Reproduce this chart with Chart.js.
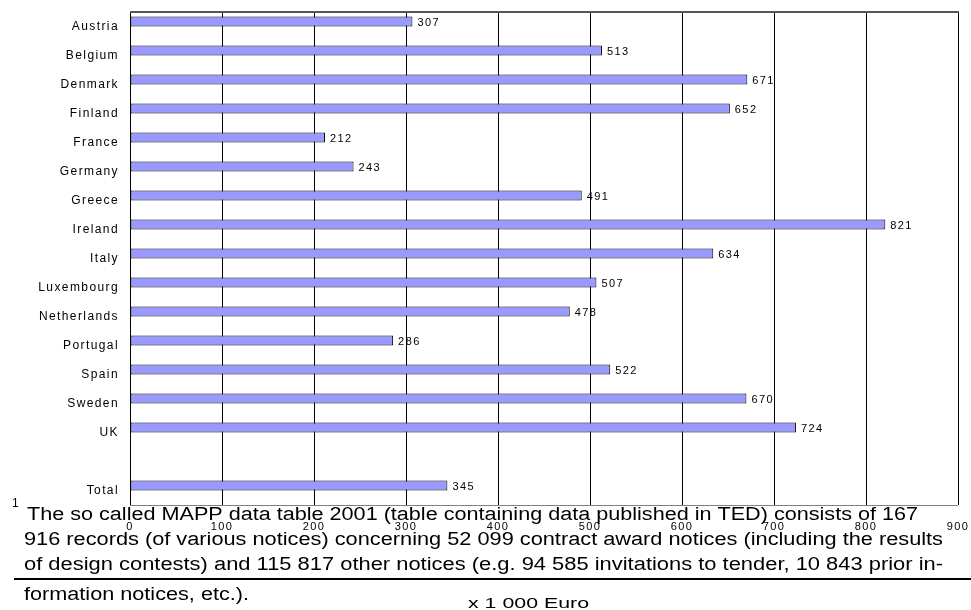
<!DOCTYPE html>
<html>
<head>
<meta charset="utf-8">
<script src="https://cdn.jsdelivr.net/npm/chart.js@4"></script>
<style>
  body { margin: 0; background: #fff; }
  canvas { display: block; }
</style>
</head>
<body>
<canvas id="awardChart" width="971" height="610"></canvas>
<script>
// average value per contract award notice (x 1 000 Euro)
const countries = ['Austria', 'Belgium', 'Denmark', 'Finland', 'France', 'Germany', 'Greece', 'Ireland',
  'Italy', 'Luxembourg', 'Netherlands', 'Portugal', 'Spain', 'Sweden', 'UK', '', 'Total'];
const values = [307, 513, 671, 652, 212, 243, 491, 821, 634, 507, 478, 286, 522, 670, 724, null, 345];
const xTicks = [0, 100, 200, 300, 400, 500, 600, 700, 800, 900];

const footnote = [
  'The so called MAPP data table 2001 (table containing data published in TED) consists of 167',
  '916 records (of various notices) concerning 52 099 contract award notices (including the results',
  'of design contests) and 115 817 other notices (e.g. 94 585 invitations to tender, 10 843 prior in-',
  'formation notices, etc.).'
];
const unitLabel = 'x 1 000 Euro';

const FONT = "'Liberation Sans', Arial, sans-serif";

// the scanned page is stretched sideways: draw text squeezed/stretched to span x0..x1
function fitText(ctx, text, x0, x1, y) {
  ctx.save();
  ctx.letterSpacing = '0px';
  const w = ctx.measureText(text).width;
  ctx.translate(x0, y);
  ctx.scale((x1 - x0) / w, 1);
  ctx.fillText(text, 0, 0);
  ctx.restore();
}

const extras = {
  id: 'extras',
  beforeDraw(chart) {
    chart.ctx.letterSpacing = '1.4px';
  },
  beforeDatasetsDraw(chart) {
    const { ctx, chartArea: a } = chart;
    ctx.save();
    ctx.strokeStyle = '#808080';
    ctx.lineWidth = 1;
    ctx.beginPath();
    ctx.moveTo(a.left, a.bottom + 0.5);
    ctx.lineTo(a.right, a.bottom + 0.5);
    ctx.stroke();
    ctx.strokeStyle = '#555';
    ctx.lineWidth = 2;
    ctx.beginPath();
    ctx.moveTo(a.left, a.top);
    ctx.lineTo(a.right + 1, a.top);
    ctx.stroke();
    ctx.restore();
  },
  afterDatasetsDraw(chart) {
    const ctx = chart.ctx;
    const meta = chart.getDatasetMeta(0);
    ctx.save();
    ctx.font = '11px ' + FONT;
    ctx.fillStyle = '#000';
    ctx.textAlign = 'left';
    ctx.textBaseline = 'middle';
    meta.data.forEach((bar, i) => {
      if (values[i] == null) return;
      ctx.fillText(String(values[i]), bar.x + 5, bar.y + 1);
    });
    ctx.restore();
  },
  afterDraw(chart) {
    const ctx = chart.ctx;
    ctx.save();
    ctx.fillStyle = '#000';
    ctx.textAlign = 'left';
    ctx.textBaseline = 'alphabetic';

    ctx.font = '12px ' + FONT;
    ctx.letterSpacing = '0px';
    ctx.fillText('1', 12, 507);

    ctx.font = '18px ' + FONT;
    fitText(ctx, footnote[0], 27, 918, 520);
    fitText(ctx, footnote[1], 24, 943, 545);
    fitText(ctx, footnote[2], 24, 943, 570);
    fitText(ctx, footnote[3], 24, 249, 600);

    ctx.strokeStyle = '#000';
    ctx.lineWidth = 2;
    ctx.beginPath();
    ctx.moveTo(14, 579);
    ctx.lineTo(971, 579);
    ctx.stroke();

    ctx.font = '15px ' + FONT;
    fitText(ctx, unitLabel, 468, 589, 608);
    ctx.restore();
  }
};

new Chart(document.getElementById('awardChart'), {
  type: 'bar',
  data: {
    labels: countries,
    datasets: [{
      label: 'x 1 000 Euro',
      data: values,
      backgroundColor: '#9999ff',
      borderColor: '#000',
      borderWidth: 1,
      borderSkipped: false
    }, {
      // empty companion series, keeps the bars in the upper part of each row
      label: '',
      data: countries.map(() => null),
      backgroundColor: 'rgba(0,0,0,0)'
    }]
  },
  options: {
    indexAxis: 'y',
    responsive: false,
    animation: false,
    categoryPercentage: 0.69,
    barPercentage: 1.0,
    layout: { padding: { top: 12, right: 13, left: 0, bottom: 0 } },
    plugins: {
      legend: { display: false },
      tooltip: { enabled: false }
    },
    scales: {
      x: {
        type: 'linear',
        min: 0,
        max: 900,
        afterBuildTicks(scale) {
          scale.ticks = xTicks.map(v => ({ value: v }));
        },
        afterFit(scale) {
          scale.height = 105;
          scale.paddingLeft = 0;
          scale.paddingRight = 0;
        },
        grid: { color: '#000', lineWidth: 1, drawTicks: false },
        border: { display: false },
        ticks: {
          padding: 15,
          color: '#000',
          font: { family: FONT, size: 11 }
        }
      },
      y: {
        type: 'category',
        afterFit(scale) {
          scale.width = 130;
          scale.paddingTop = 0;
          scale.paddingBottom = 0;
        },
        grid: { display: false, drawTicks: false },
        border: { display: false },
        ticks: {
          autoSkip: false,
          padding: 11,
          color: '#000',
          font: { family: FONT, size: 12 }
        }
      }
    }
  },
  plugins: [extras]
});
</script>
</body>
</html>
